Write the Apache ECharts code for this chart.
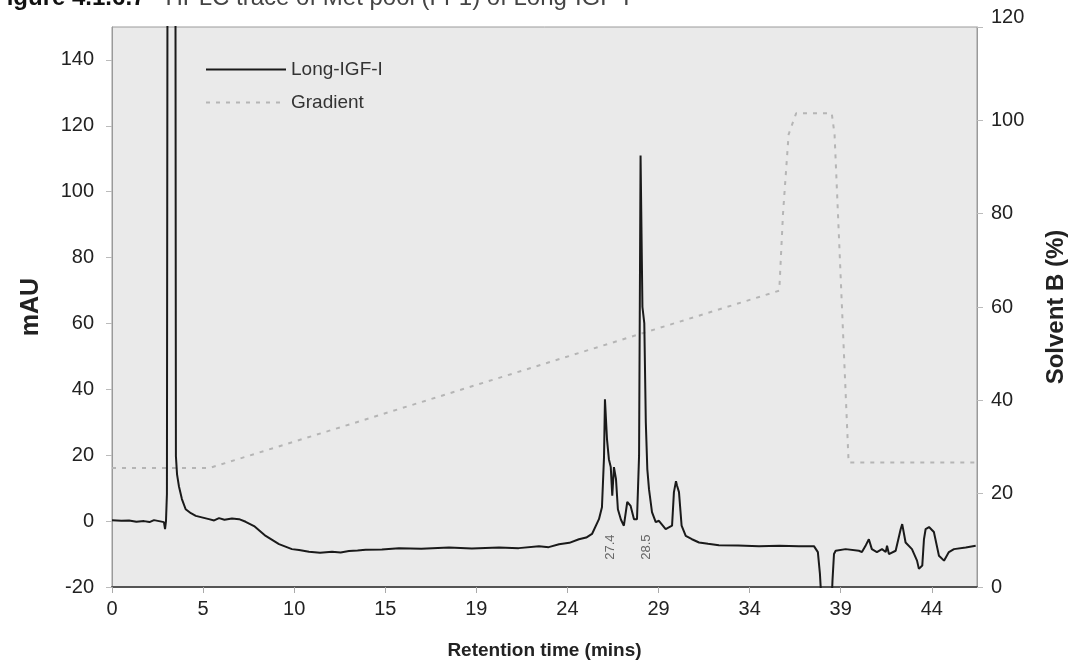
<!DOCTYPE html>
<html>
<head>
<meta charset="utf-8">
<script src="https://cdn.jsdelivr.net/npm/echarts@6/dist/echarts.min.js"></script>
<style>
  html, body { margin: 0; padding: 0; background: #ffffff; }
  #chart { width: 1072px; height: 672px; }
</style>
</head>
<body>
<div id="chart"></div>
<script>
// HPLC trace of Long-IGF-I (absorbance, mAU) with the solvent B gradient (%)

// x tick step in minutes and the printed tick labels
const xStep = 4.86;
const xMax = 46.15;
const xTickLabels = ['0', '5', '10', '15', '19', '24', '29', '34', '39', '44'];

// absorbance trace: [retention time, mAU]
const traceLongIGF = [
  [0, 0.3], [0.5, 0.1], [0.91, 0.2], [1.3, -0.2], [1.71, 0], [2.0, -0.3], [2.24, 0.3], [2.51, 0],
  [2.77, -0.3], [2.83, -2.4], [2.88, 0], [2.93, 8.2], [2.96, 8.8], [2.99, 320],
  [3.36, 320], [3.41, 19.7], [3.47, 14.2], [3.57, 10.6], [3.73, 6.7], [3.93, 3.6],
  [4.21, 2.4], [4.47, 1.6], [5.17, 0.6], [5.45, 0.2], [5.71, 0.9], [6.0, 0.4], [6.40, 0.8],
  [6.78, 0.6], [7.13, -0.2], [7.58, -1.5], [8.20, -4.5], [8.91, -7.0], [9.60, -8.5],
  [9.98, -8.8], [10.51, -9.3], [11.1, -9.6], [11.74, -9.3], [12.2, -9.5], [12.64, -9.1],
  [13.1, -8.9], [13.53, -8.7], [14.4, -8.6], [15.31, -8.2], [16.5, -8.4], [17.98, -8.0],
  [19.2, -8.3], [20.65, -8.0], [21.7, -8.2], [22.78, -7.6], [23.3, -7.9], [23.85, -7.0],
  [24.4, -6.6], [24.91, -5.5], [25.3, -5.0], [25.61, -3.9], [25.98, 0.6], [26.14, 4.2],
  [26.25, 19.4], [26.30, 37], [26.36, 37.6], [26.41, 24.8], [26.51, 18.8], [26.61, 16.4],
  [26.69, 7.7], [26.78, 16.4], [26.89, 12.7], [26.99, 3.6], [27.15, 0.5], [27.31, -1.4],
  [27.49, 5.8], [27.67, 4.6], [27.85, 0.6], [28.01, 0.6], [28.12, 19.8], [28.20, 111],
  [28.24, 111], [28.30, 65], [28.40, 60], [28.48, 30], [28.56, 15.8], [28.65, 9.7],
  [28.81, 2.7], [29.01, -0.3], [29.18, 0.1], [29.54, -2.4], [29.88, -1.4], [29.98, 8.8],
  [30.09, 12.1], [30.14, 10.9], [30.25, 8.8], [30.39, -1.4], [30.61, -4.5], [30.94, -5.5],
  [31.32, -6.5], [31.8, -6.9], [32.38, -7.3], [33.4, -7.4], [34.52, -7.6], [35.6, -7.5],
  [36.65, -7.6], [37.45, -7.6], [37.66, -9.4], [37.77, -16], [37.85, -24], [37.93, -30],
  [38.36, -30], [38.44, -18], [38.52, -10], [38.61, -9], [39.14, -8.5], [39.85, -9],
  [40.01, -9.4], [40.22, -7.3], [40.38, -5.5], [40.54, -8.5], [40.81, -9.4], [41.08, -8.5],
  [41.28, -9.4], [41.35, -7.5], [41.45, -10], [41.81, -9], [42.08, -2.4], [42.16, -0.9],
  [42.34, -6.5], [42.68, -8.5], [42.95, -12], [43.05, -14.5], [43.23, -13.5], [43.32, -5.5],
  [43.41, -2.4], [43.59, -1.8], [43.85, -3.3], [44.12, -10.5], [44.39, -12], [44.65, -9.4],
  [44.92, -8.5], [45.55, -8], [46.08, -7.5]
];

// solvent B programme: [retention time, %B]
const gradientB = [
  [0, 25.5], [5.2, 25.5], [35.6, 63.5], [35.8, 80], [36.1, 97], [36.5, 101.5],
  [38.4, 101.5], [38.55, 97], [39.3, 26.7], [46.1, 26.7]
];

// peak annotations: retention time printed next to each major peak
const peakNames = ['27.4', '28.5'];
const peakTimes = [26.6, 28.52];
const peakLabelLevel = -7.9;

const chart = echarts.init(document.getElementById('chart'));
const font = 'Liberation Sans, Arial, sans-serif';

chart.setOption({
  backgroundColor: '#ffffff',
  animation: false,
  graphic: [{
    type: 'text',
    left: -8,
    top: -14,
    style: {
      text: '{b|Figure 4.1.6.7}{n|   HPLC trace of Met pool (Fr 1) of Long-IGF-I}',
      rich: {
        b: { fontFamily: font, fontSize: 24, fontWeight: 'bold', fill: '#111' },
        n: { fontFamily: font, fontSize: 24, fill: '#444' }
      }
    }
  }],
  grid: {
    left: 112, right: 95, top: 27, bottom: 85,
    outerBoundsMode: 'none',
    containLabel: false,
    show: true,
    backgroundColor: '#eaeaea',
    borderColor: '#9a9a9a',
    borderWidth: 1
  },
  legend: {
    data: ['Long-IGF-I', 'Gradient'],
    orient: 'vertical',
    left: 200, top: 55,
    itemWidth: 80, itemHeight: 14, itemGap: 14,
    itemStyle: { opacity: 0 },
    textStyle: { fontFamily: font, fontSize: 19, color: '#333' }
  },
  xAxis: {
    type: 'value',
    min: 0, max: xMax, interval: xStep,
    name: 'Retention time (mins)',
    nameLocation: 'middle', nameGap: 54,
    nameTextStyle: { fontFamily: font, fontSize: 19, fontWeight: 'bold', color: '#222' },
    axisLine: { show: true, onZero: false, lineStyle: { color: '#555', width: 2 } },
    axisTick: { show: true, length: 6, lineStyle: { color: '#aaa' } },
    axisLabel: {
      fontFamily: font, fontSize: 20, color: '#222', margin: 12,
      showMaxLabel: false,
      formatter: v => xTickLabels[Math.round(v / xStep)] ?? ''
    },
    splitLine: { show: false }
  },
  yAxis: [{
    type: 'value',
    min: -20, max: 150, interval: 20,
    name: 'mAU', nameLocation: 'middle', nameGap: 68, nameRotate: 90,
    nameTextStyle: { fontFamily: font, fontSize: 25, fontWeight: 'bold', color: '#222' },
    axisLine: { show: true, onZero: false, lineStyle: { color: '#9a9a9a' } },
    axisTick: { show: true, length: 6, lineStyle: { color: '#bbb' } },
    axisLabel: { fontFamily: font, fontSize: 20, color: '#222', margin: 18, showMaxLabel: false },
    splitLine: { show: false }
  }, {
    type: 'value',
    min: 0, max: 120, interval: 20,
    name: 'Solvent B (%)', nameLocation: 'middle', nameGap: 67, nameRotate: 90,
    nameTextStyle: { fontFamily: font, fontSize: 24, fontWeight: 'bold', color: '#222' },
    axisLine: { show: true, onZero: false, lineStyle: { color: '#9a9a9a' } },
    axisTick: { show: true, length: 6, lineStyle: { color: '#bbb' } },
    axisLabel: { fontFamily: font, fontSize: 20, color: '#222', margin: 14, verticalAlignMaxLabel: 'bottom' },
    splitLine: { show: false }
  }],
  series: [{
    name: 'Long-IGF-I',
    type: 'line',
    yAxisIndex: 0,
    data: traceLongIGF,
    symbol: 'none',
    clip: true,
    lineStyle: { color: '#1a1a1a', width: 2 },
    itemStyle: { color: '#1a1a1a' },
    z: 3,
    markPoint: {
      symbol: 'circle', symbolSize: 0,
      label: {
        show: true, rotate: 90, position: 'inside',
        fontFamily: font, fontSize: 13, color: '#666',
        formatter: p => p.name
      },
      data: peakNames.map((n, i) => ({ name: n, coord: [peakTimes[i], peakLabelLevel] }))
    }
  }, {
    name: 'Gradient',
    type: 'line',
    yAxisIndex: 1,
    data: gradientB,
    symbol: 'none',
    lineStyle: { color: '#b5b5b5', width: 2, type: [4, 6] },
    itemStyle: { color: '#b5b5b5' },
    z: 2
  }]
});
</script>
</body>
</html>
